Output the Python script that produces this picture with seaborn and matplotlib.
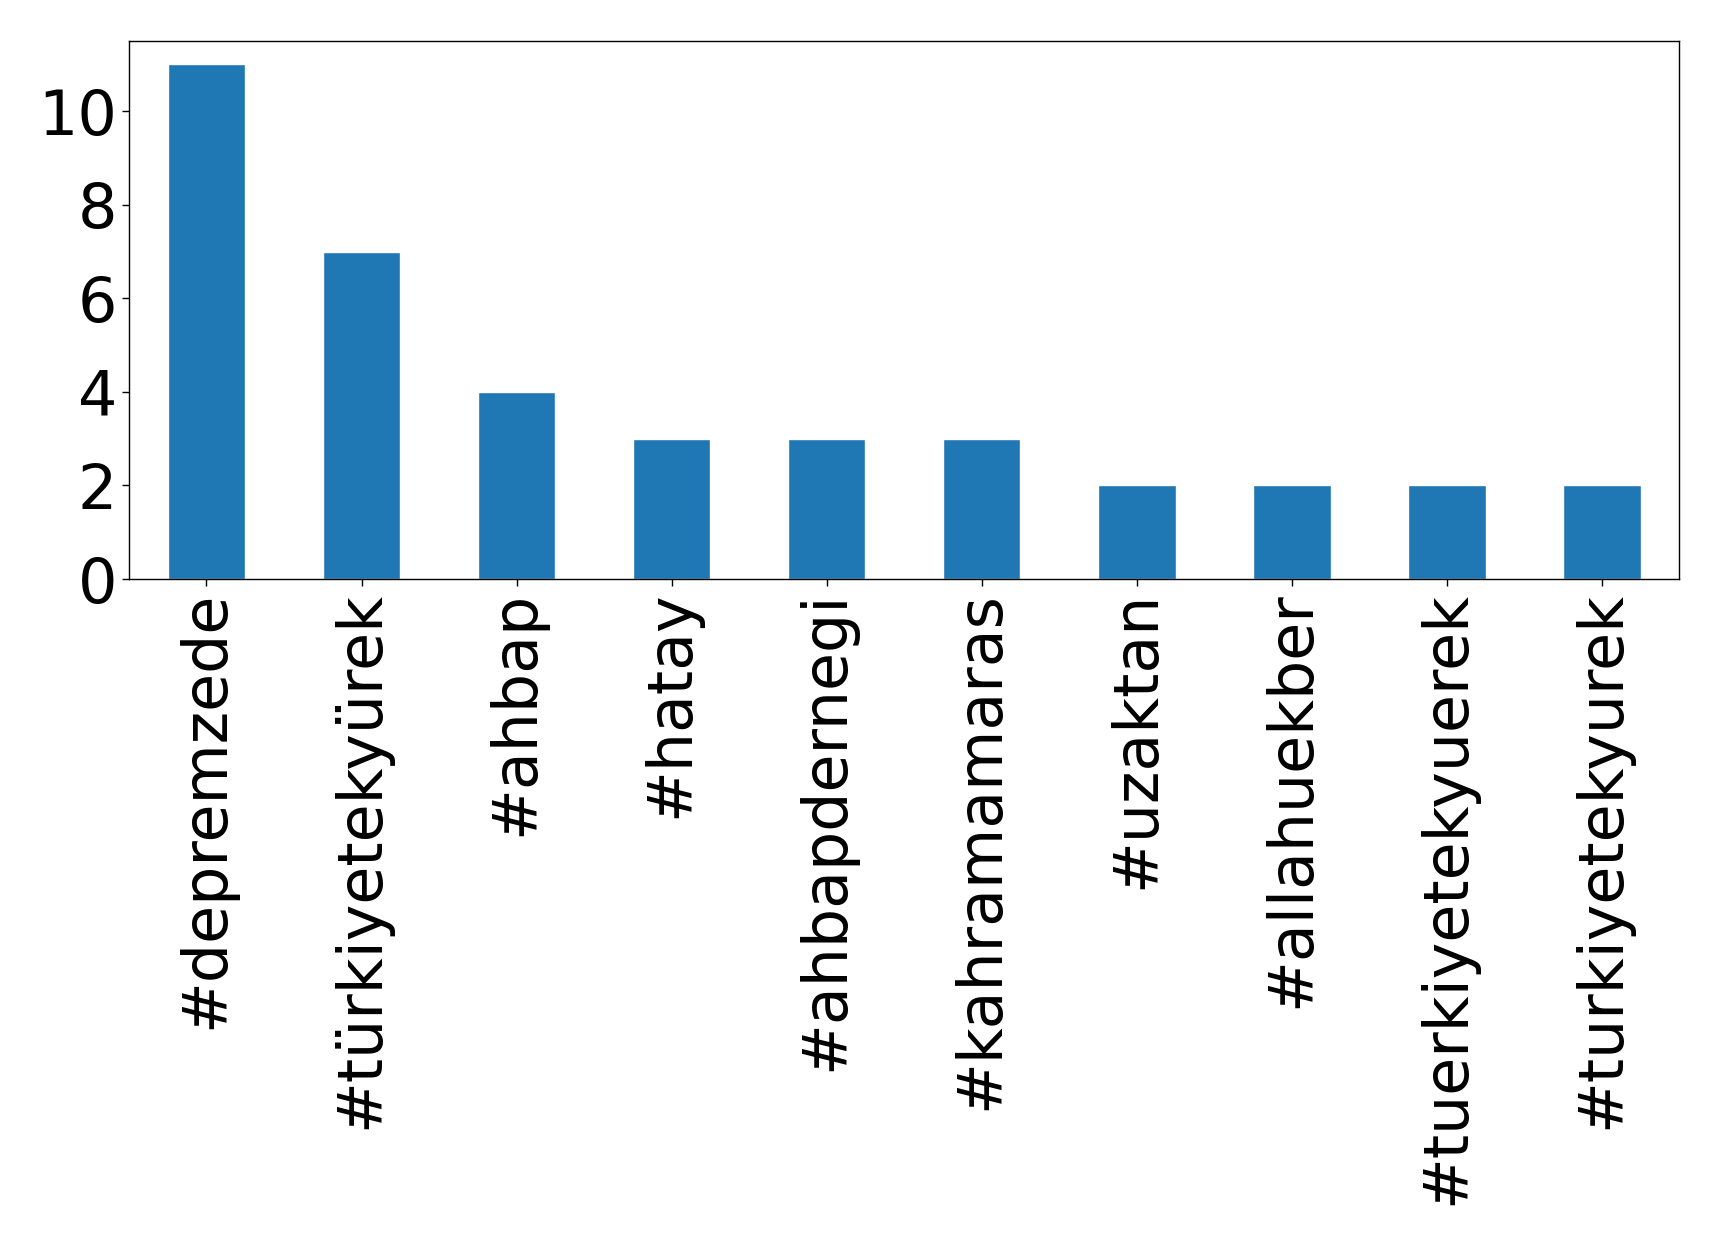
import pandas as pd
import matplotlib
matplotlib.use("Agg")
import matplotlib.pyplot as plt
import seaborn as sns

# hashtag counts
hashtags = ['#depremzede', '#türkiyetekyürek', '#ahbap', '#hatay', '#ahbapdernegi',
            '#kahramamaras', '#uzaktan', '#allahuekber', '#tuerkiyetekyuerek', '#turkiyetekyurek']
counts = [11, 7, 4, 3, 3, 3, 2, 2, 2, 2]

df = pd.DataFrame({'hashtag': hashtags, 'count': counts})

sns.set_style("ticks")
plt.rcParams['font.family'] = ['DejaVu Sans']

fig = plt.figure(figsize=(17.19, 12.49), dpi=100)
ax = fig.add_axes([0.075, 0.5364, 0.902, 0.4308])
sns.barplot(data=df, x='hashtag', y='count', color='#1f77b4', saturation=1, width=0.5, ax=ax)
ax.set_xlim(-0.5, 9.5)
ax.set_ylim(0, 11.5)
ax.set_yticks([0, 2, 4, 6, 8, 10])
ax.set_xlabel('')
ax.set_ylabel('')
ax.tick_params(axis='both', labelsize=44.6, length=5, width=1, colors='black')
ax.tick_params(axis='x', labelrotation=90)
for s in ax.spines.values():
    s.set_visible(True)
    s.set_color('black')
    s.set_linewidth(1)

fig.savefig('out.png', dpi=100)
